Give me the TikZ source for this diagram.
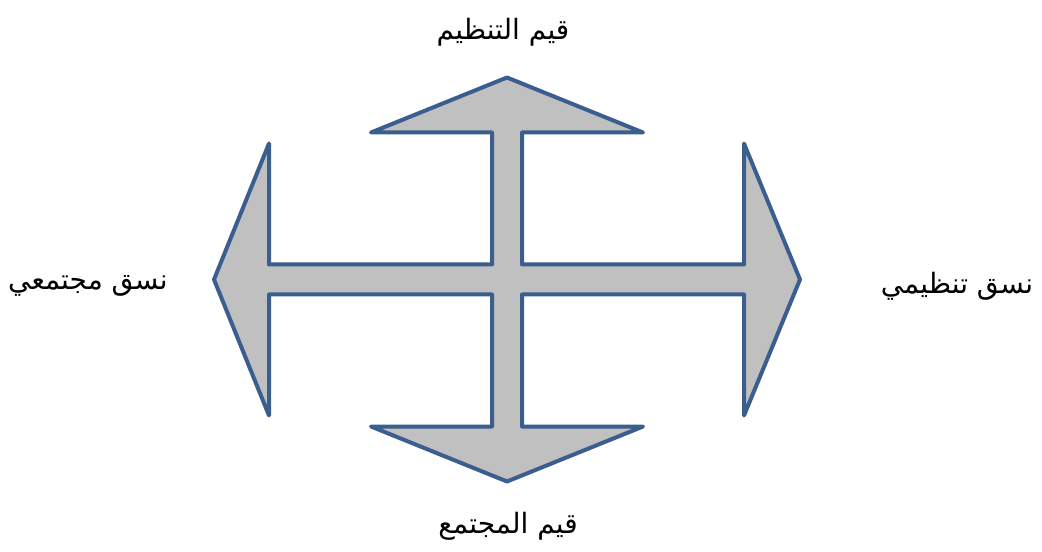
\documentclass[tikz,border=0pt]{standalone}
\usepackage{fontspec}
\usepackage{tikz}
\usepackage{xcolor}
\usetikzlibrary{positioning,calc}
\TeXXeTstate=1
\newfontfamily\arabicfont[Script=Arabic]{DejaVu Sans}
\definecolor{crossfill}{HTML}{C0C0C0}
\definecolor{crossline}{HTML}{3A5F8F}
\tikzset{
  crossbody/.style={
    draw=crossline, fill=crossfill, line width=3pt,
    line join=round, line cap=round
  },
  arlabel/.style={
    font=\arabicfont\fontsize{21}{25}\selectfont,
    inner sep=0pt, anchor=center
  }
}
\begin{document}
\begin{tikzpicture}[x=0.75pt,y=-0.75pt]
  \useasboundingbox (0,0) rectangle (1042,552);
  \coordinate (c) at (507,279.5);
  % cross with four arrow heads
  \draw[crossbody]
    ($(c)+(0,-202)$) -- ($(c)+(136,-147)$) -- ($(c)+(15,-147)$) -- ($(c)+(15,-15)$)
    -- ($(c)+(237,-15)$) -- ($(c)+(237,-136)$) -- ($(c)+(293,0)$) -- ($(c)+(237,136)$)
    -- ($(c)+(237,15)$) -- ($(c)+(15,15)$) -- ($(c)+(15,147)$) -- ($(c)+(136,147)$)
    -- ($(c)+(0,202)$) -- ($(c)+(-136,147)$) -- ($(c)+(-15,147)$) -- ($(c)+(-15,15)$)
    -- ($(c)+(-238,15)$) -- ($(c)+(-238,136)$) -- ($(c)+(-293,0)$) -- ($(c)+(-238,-136)$)
    -- ($(c)+(-238,-15)$) -- ($(c)+(-15,-15)$) -- ($(c)+(-15,-147)$) -- ($(c)+(-136,-147)$)
    -- cycle;
  % labels
  \node[arlabel] (top) at (503,32) {\beginR قيم التنظيم\endR};
  \node[arlabel] (bottom) at (508,526) {\beginR قيم المجتمع\endR};
  \node[arlabel] (left) at (88,286) {\beginR نسق مجتمعي\endR};
  \node[arlabel] (right) at (957,286) {\beginR نسق تنظيمي\endR};
\end{tikzpicture}
\end{document}
